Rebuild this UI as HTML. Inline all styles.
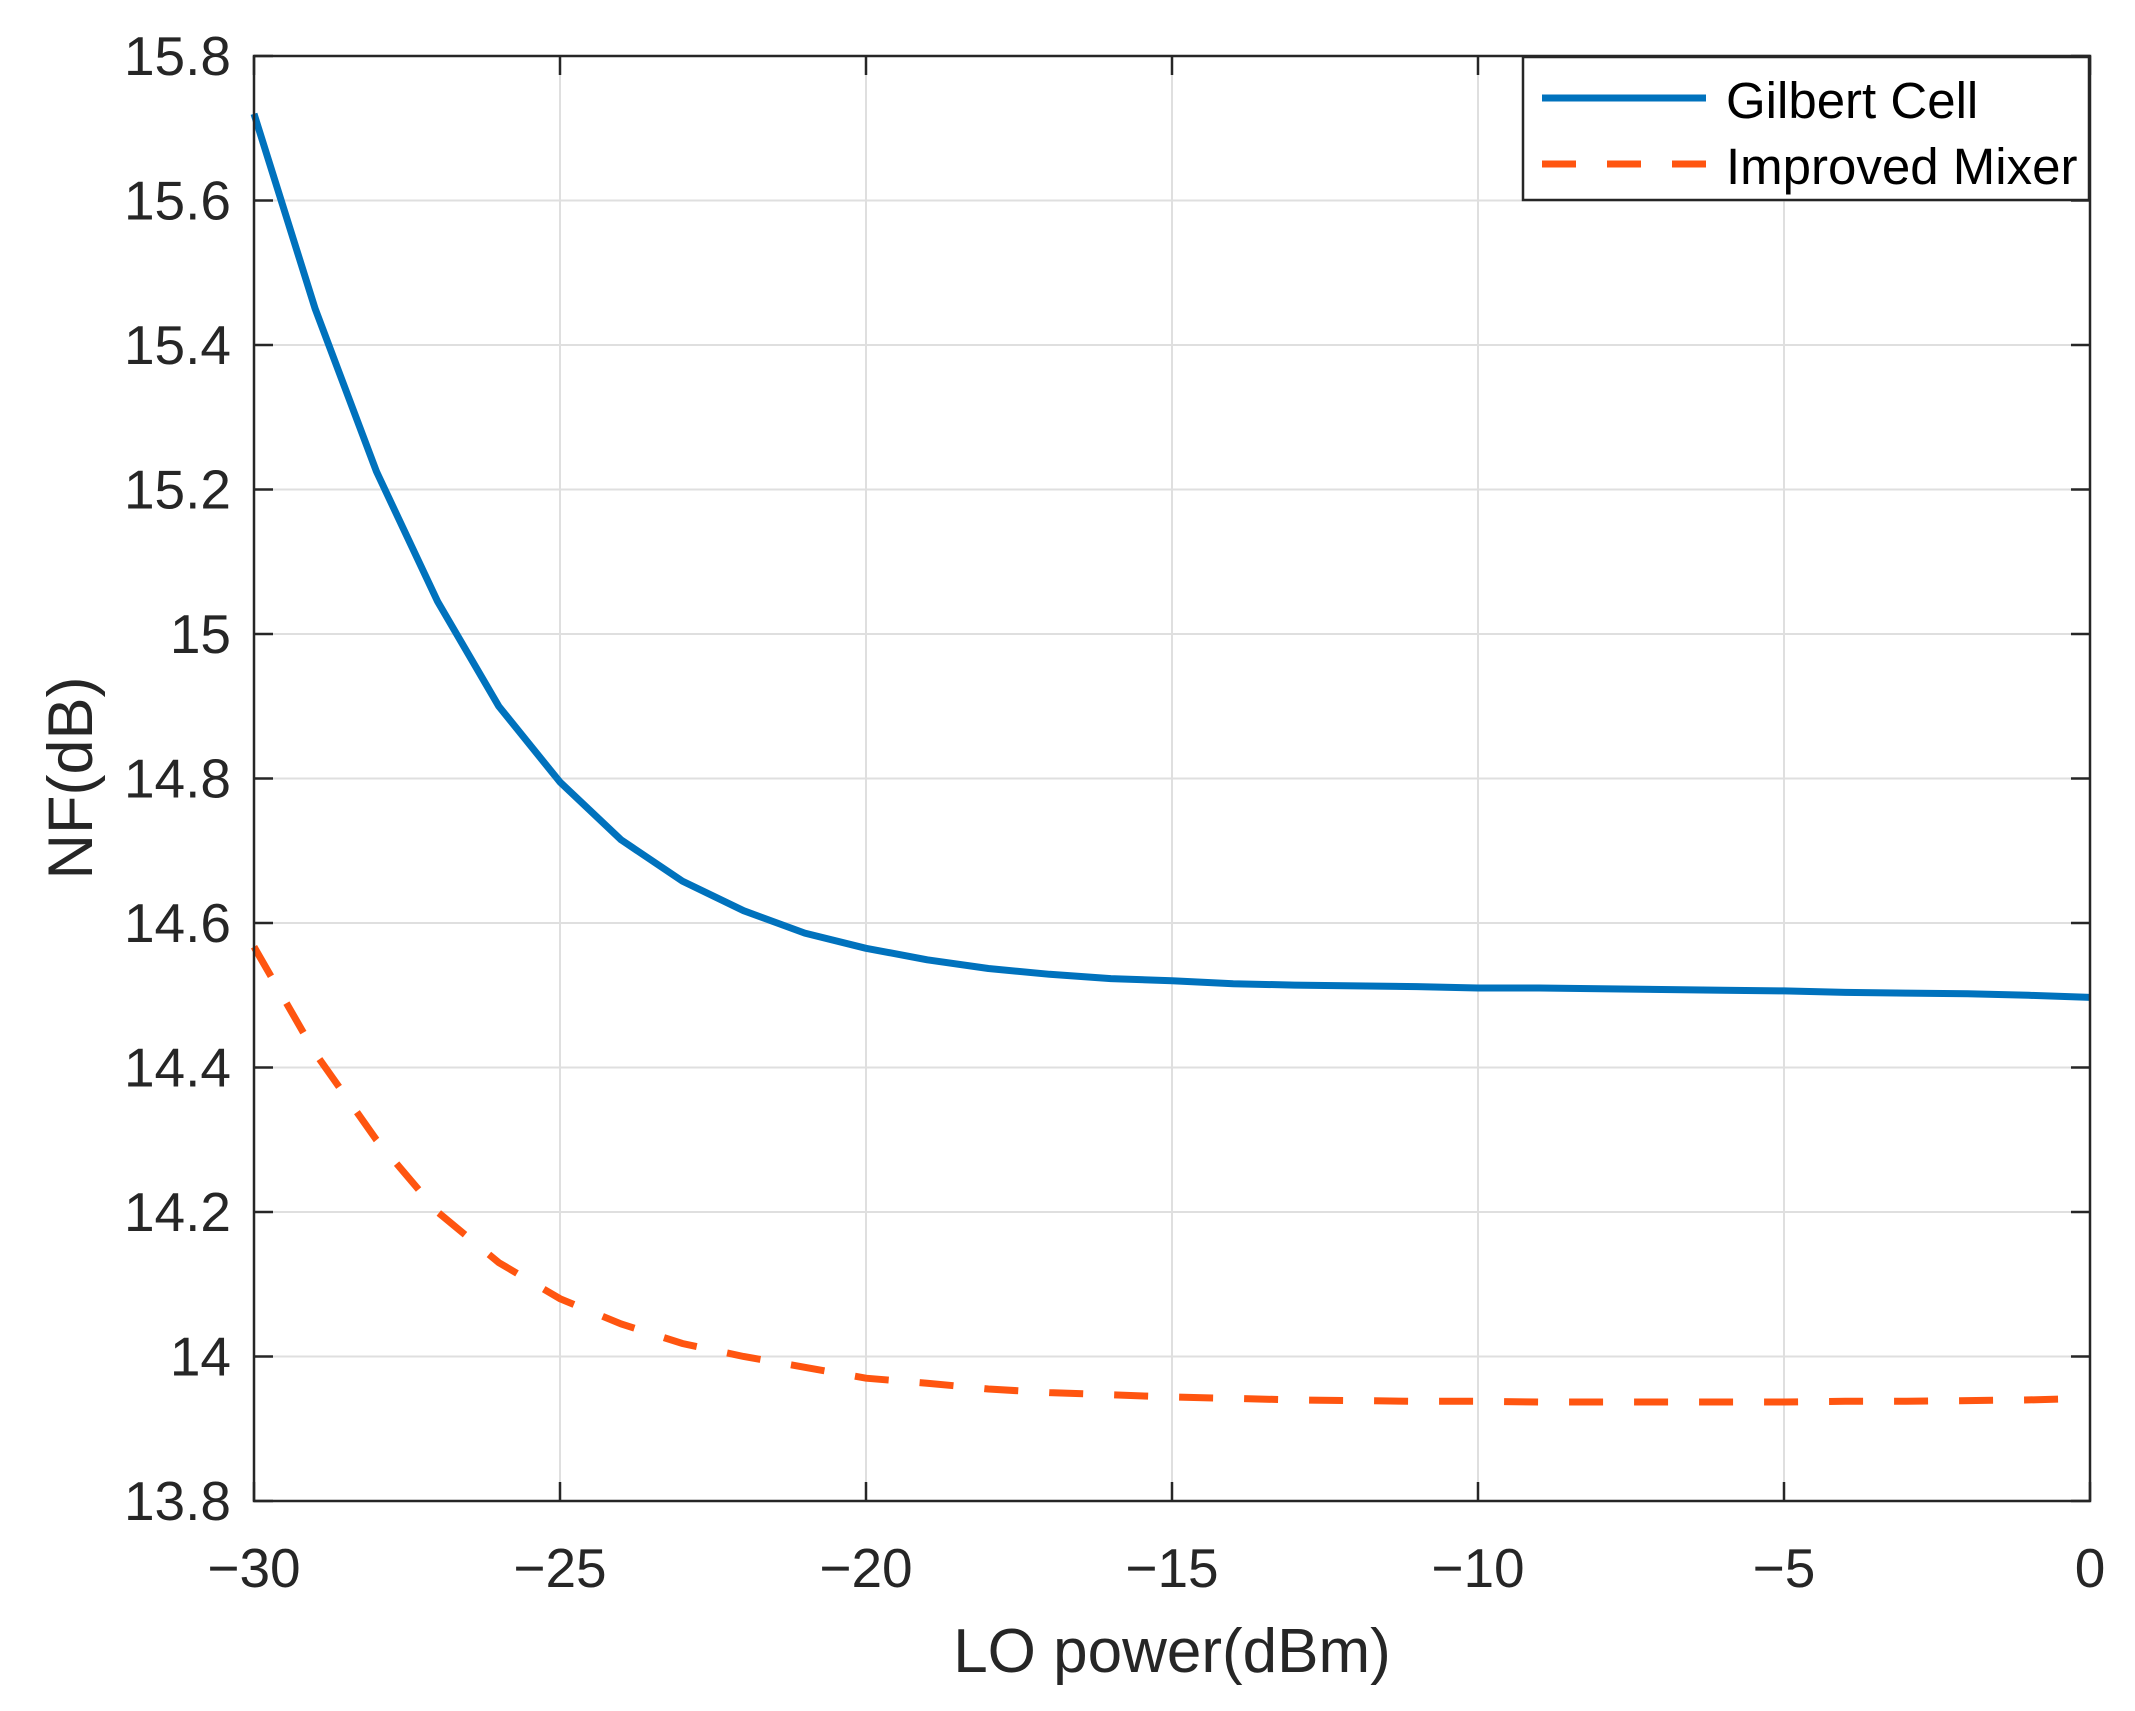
<!DOCTYPE html>
<html><head><meta charset="utf-8"><style>
html,body{margin:0;padding:0;background:#fff;}
svg{display:block;font-family:"Liberation Sans",Arial,sans-serif;}
</style></head><body>
<svg id="chart" width="2135" height="1711" viewBox="0 0 2135 1711" xmlns="http://www.w3.org/2000/svg">
<rect width="2135" height="1711" fill="#fff"/>
<g id="grid"></g>
<g id="series"></g>
<g id="axes"></g>
<text x="1172" y="1672" font-size="62" fill="#262626" text-anchor="middle">LO power(dBm)</text>
<text transform="translate(92,778) rotate(-90)" font-size="63" fill="#262626" text-anchor="middle">NF(dB)</text>
<g>
<rect x="1523" y="57" width="566" height="143" fill="#fff" stroke="#262626" stroke-width="2.5"/>
<line x1="1542" y1="98" x2="1706" y2="98" stroke="#0072BD" stroke-width="7"/>
<text x="1726" y="118" font-size="51" fill="#000">Gilbert Cell</text>
<line x1="1542" y1="164" x2="1706" y2="164" stroke="#FF5510" stroke-width="7" stroke-dasharray="34,31"/>
<text x="1726" y="184" font-size="51" fill="#000">Improved Mixer</text>
</g>
</svg>
<script>
const xValues = [-30,-29,-28,-27,-26,-25,-24,-23,-22,-21,-20,-19,-18,-17,-16,-15,-14,-13,-12,-11,-10,-9,-8,-7,-6,-5,-4,-3,-2,-1,0];
const gilbertNF = [15.72,15.45,15.225,15.045,14.90,14.795,14.715,14.658,14.617,14.586,14.565,14.549,14.537,14.529,14.523,14.520,14.516,14.514,14.513,14.512,14.510,14.510,14.509,14.508,14.507,14.506,14.504,14.503,14.502,14.500,14.497];
const improvedNF = [14.567,14.42,14.30,14.20,14.13,14.08,14.045,14.018,14.0,13.985,13.97,13.963,13.955,13.95,13.947,13.944,13.942,13.940,13.939,13.938,13.938,13.937,13.937,13.937,13.937,13.937,13.938,13.938,13.939,13.940,13.942];
const xTicks = [-30,-25,-20,-15,-10,-5,0];
const yTicks = [13.8,14,14.2,14.4,14.6,14.8,15,15.2,15.4,15.6,15.8];
const yTickLabels = ["13.8","14","14.2","14.4","14.6","14.8","15","15.2","15.4","15.6","15.8"];

const L=254,R=2090,T=56,B=1501;
const xMin=-30,xMax=0,yMin=13.8,yMax=15.8;
function sx(v){return L+(v-xMin)/(xMax-xMin)*(R-L);}
function sy(v){return B-(v-yMin)/(yMax-yMin)*(B-T);}
const NS="http://www.w3.org/2000/svg";
function mk(tag,attrs,parent){const e=document.createElementNS(NS,tag);for(const k in attrs)e.setAttribute(k,attrs[k]);parent.appendChild(e);return e;}
const grid=document.getElementById('grid'),axes=document.getElementById('axes'),series=document.getElementById('series');

xTicks.forEach((t,i)=>{
  const x=sx(t);
  const g=mk('line',{x1:x,y1:T,x2:x,y2:B,stroke:'#dfdfdf','stroke-width':2},grid);
  
  
  const tk1=mk('line',{x1:x,y1:B,x2:x,y2:B-19,stroke:'#262626','stroke-width':2.5},axes);
  
  
  const tk2=mk('line',{x1:x,y1:T,x2:x,y2:T+19,stroke:'#262626','stroke-width':2.5},axes);
  
  
  const lb=mk('text',{x:x,y:1587,'font-size':55,fill:'#262626','text-anchor':'middle'},axes);
  lb.textContent=t<0?'\u2212'+Math.abs(t):String(t);
  
  
});
yTicks.forEach((t,i)=>{
  const y=sy(t);
  const g=mk('line',{x1:L,y1:y,x2:R,y2:y,stroke:'#dfdfdf','stroke-width':2},grid);
  
  
  const tk1=mk('line',{x1:L,y1:y,x2:L+19,y2:y,stroke:'#262626','stroke-width':2.5},axes);
  
  
  const tk2=mk('line',{x1:R,y1:y,x2:R-19,y2:y,stroke:'#262626','stroke-width':2.5},axes);
  
  
  const lb=mk('text',{x:231,y:y+19,'font-size':55,fill:'#262626','text-anchor':'end'},axes);
  lb.textContent=yTickLabels[i];
  
  
});
const frame=mk('rect',{x:L,y:T,width:R-L,height:B-T,fill:'none',stroke:'#262626','stroke-width':2.5},axes);



function pts(arr){return xValues.map((x,i)=>sx(x).toFixed(1)+','+sy(arr[i]).toFixed(1)).join(' ');}
const g1=mk('polyline',{points:pts(gilbertNF),fill:'none',stroke:'#0072BD','stroke-width':7,'stroke-linejoin':'round'},series);


const g2=mk('polyline',{points:pts(improvedNF),fill:'none',stroke:'#FF5510','stroke-width':7,'stroke-dasharray':'34,31'},series);


</script>
</body></html>
